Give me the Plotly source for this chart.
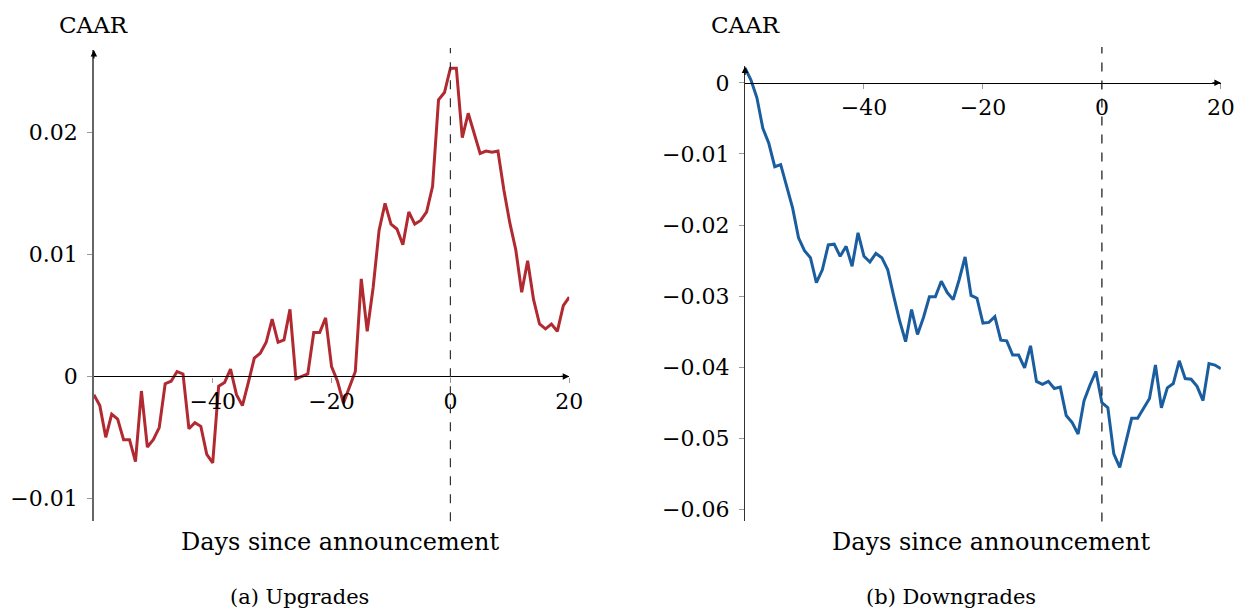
import plotly.graph_objects as go

days = list(range(-60, 21))

caar_up = [
    -0.0015, -0.0024, -0.0050, -0.0031, -0.0035, -0.0052, -0.0052, -0.0070, -0.0012, -0.0058,
    -0.0052, -0.0042, -0.0006, -0.0004, 0.0004, 0.0002, -0.0043, -0.0038, -0.0041, -0.0064,
    -0.0071, -0.0008, -0.0005, 0.0006, -0.0015, -0.0024, -0.0005, 0.0015, 0.0019, 0.0028,
    0.0047, 0.0028, 0.0030, 0.0055, -0.0002, 0.0000, 0.0002, 0.0036, 0.0036, 0.0048,
    0.0008, -0.0004, -0.0022, -0.0009, 0.0004, 0.0080, 0.0037, 0.0073, 0.0120, 0.0142,
    0.0125, 0.0121, 0.0108, 0.0135, 0.0125, 0.0128, 0.0135, 0.0156, 0.0227, 0.0233,
    0.0253, 0.0253, 0.0196, 0.0216, 0.0200, 0.0183, 0.0185, 0.0184, 0.0185, 0.0153,
    0.0126, 0.0104, 0.0069, 0.0095, 0.0063, 0.0043, 0.0039, 0.0043, 0.0037, 0.0058,
    0.0065,
]

caar_down = [
    0.0021, 0.0004, -0.0021, -0.0064, -0.0085, -0.0118, -0.0115, -0.0146, -0.0176, -0.0218,
    -0.0236, -0.0246, -0.0281, -0.0263, -0.0228, -0.0227, -0.0244, -0.0230, -0.0258, -0.0211,
    -0.0244, -0.0252, -0.0240, -0.0246, -0.0263, -0.0300, -0.0335, -0.0364, -0.0319, -0.0354,
    -0.0330, -0.0301, -0.0301, -0.0279, -0.0295, -0.0305, -0.0277, -0.0245, -0.0299, -0.0303,
    -0.0338, -0.0337, -0.0329, -0.0362, -0.0363, -0.0383, -0.0383, -0.0401, -0.0370, -0.0420,
    -0.0424, -0.0420, -0.0430, -0.0428, -0.0468, -0.0478, -0.0494, -0.0447, -0.0425, -0.0406,
    -0.0450, -0.0457, -0.0522, -0.0541, -0.0506, -0.0472, -0.0472, -0.0457, -0.0444, -0.0397,
    -0.0457, -0.0429, -0.0423, -0.0391, -0.0416, -0.0417, -0.0427, -0.0447, -0.0395, -0.0397,
    -0.0402,
]

x_ticks = [-40, -20, 0, 20]
x_ticktext = ["−40", "−20", "0", "20"]
up_yticks = [-0.01, 0, 0.01, 0.02]
up_yticktext = ["−0.01", "0", "0.01", "0.02"]
down_yticks = [-0.06, -0.05, -0.04, -0.03, -0.02, -0.01, 0]
down_yticktext = ["−0.06", "−0.05", "−0.04", "−0.03", "−0.02", "−0.01", "0"]

W, H = 1237, 612
FONT = "DejaVu Serif"
RED = "#B22A31"
BLUE = "#1B5E9F"
XS = 0.99  # horizontal compensation observed in the rendered page


def px(v):
    return ((v + 1) / XS) / W


def py(v):
    return (H - v) / H


fig = go.Figure()
fig.add_trace(go.Scatter(x=days, y=caar_up, mode="lines", line=dict(color=RED, width=3),
                         xaxis="x", yaxis="y", showlegend=False, hoverinfo="skip"))
fig.add_trace(go.Scatter(x=days, y=caar_down, mode="lines", line=dict(color=BLUE, width=3),
                         xaxis="x2", yaxis="y2", showlegend=False, hoverinfo="skip"))

up_range = [-0.0119, 0.0268]
down_range = [-0.0617, 0.0023]

tickfont = dict(family=FONT, size=22, color="black")
common = dict(showgrid=False, zeroline=False, ticklen=5, tickcolor="#999", tickwidth=1)

up_xdom = [px(93), px(569)]
down_xdom = [px(745), px(1221.5)]
up_ydom = [py(522.2), py(50)]
down_ydom = [py(522.3), py(66.6)]

fig.update_layout(
    width=W, height=H,
    margin=dict(l=0, r=0, t=0, b=0),
    paper_bgcolor="white", plot_bgcolor="white",
    xaxis=dict(domain=up_xdom, range=[-60, 20], anchor="free", position=py(377),
               showline=True, linecolor="black", linewidth=1.3, ticks="outside",
               tickvals=x_ticks, ticktext=x_ticktext, tickfont=tickfont, **common),
    yaxis=dict(domain=up_ydom, range=up_range, anchor="x",
               showline=True, linecolor="#666", linewidth=1.5, ticks="outside",
               ticklabelstandoff=5,
               tickvals=up_yticks, ticktext=up_yticktext, tickfont=tickfont, **common),
    xaxis2=dict(domain=down_xdom, range=[-60, 20], anchor="free", position=py(83),
                showline=True, linecolor="black", linewidth=1.3, ticks="outside",
                tickvals=x_ticks, ticktext=x_ticktext, tickfont=tickfont, **common),
    yaxis2=dict(domain=down_ydom, range=down_range, anchor="x2",
                showline=True, linecolor="#333", linewidth=1.3, ticks="outside",
                ticklabelstandoff=5,
                tickvals=down_yticks, ticktext=down_yticktext, tickfont=tickfont, **common),
    # companion axes giving the inner half of the crossing tick marks
    xaxis3=dict(domain=up_xdom, range=[-60, 20], anchor="free", position=py(377), overlaying="x",
                showline=False, ticks="inside", tickvals=x_ticks, showticklabels=False, **common),
    yaxis3=dict(domain=up_ydom, range=up_range, anchor="x", overlaying="y",
                showline=False, ticks="inside", tickvals=up_yticks, showticklabels=False, **common),
    xaxis4=dict(domain=down_xdom, range=[-60, 20], anchor="free", position=py(83), overlaying="x2",
                showline=False, ticks="inside", tickvals=x_ticks, showticklabels=False, **common),
    yaxis4=dict(domain=down_ydom, range=down_range, anchor="x2", overlaying="y2",
                showline=False, ticks="inside", tickvals=down_yticks, showticklabels=False, **common),
)

# dashed reference lines at day 0
fig.add_shape(type="line", xref="x", yref="y domain", x0=0, x1=0, y0=0, y1=1.004,
              line=dict(color="#333", width=1.2, dash="dash"))
fig.add_shape(type="line", xref="x2", yref="y2 domain", x0=0, x1=0, y0=0, y1=1.043,
              line=dict(color="#111", width=1.2, dash="dash"))

# axis arrows
for xr, yr, ytop in [("x", "y", up_range[1]), ("x2", "y2", down_range[1])]:
    fig.add_annotation(x=20, y=0, xref=xr, yref=yr, ax=-10, ay=0, text="",
                       showarrow=True, arrowhead=2, arrowsize=1, arrowwidth=1.3, arrowcolor="black")
    fig.add_annotation(x=-60, y=ytop, xref=xr, yref=yr, ax=0, ay=10, text="",
                       showarrow=True, arrowhead=2, arrowsize=1, arrowwidth=1.3, arrowcolor="black")

labels = [
    ("CAAR", 93, 25, 23),
    ("CAAR", 745.5, 25, 23),
    ("Days since announcement", 339, 543, 24),
    ("Days since announcement", 991, 543, 24),
    ("(a) Upgrades", 299, 598, 21),
    ("(b) Downgrades", 951, 598, 21),
]
for text, x, y, size in labels:
    fig.add_annotation(x=px(x), y=py(y), xref="paper", yref="paper", text=text, showarrow=False,
                       xanchor="center", yanchor="middle",
                       font=dict(family=FONT, size=size, color="black"))

fig.write_html(
    "out.html",
    config={"displayModeBar": False},
    post_script="document.documentElement.style.margin='0';document.body.style.margin='0';document.body.style.overflow='hidden';",
)
